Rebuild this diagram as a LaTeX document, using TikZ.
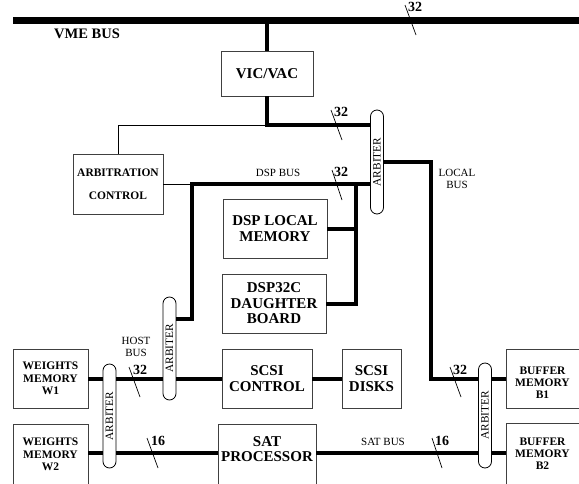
\documentclass[tikz,border=0pt]{standalone}
\usepackage{fontspec}
\setmainfont{Liberation Serif}
\begin{document}
\begin{tikzpicture}[x=1pt,y=-1pt,
  box/.style={draw=black!75,line width=0.8pt,inner sep=0pt,align=center,font=\fontsize{15}{15.5}\selectfont\bfseries},
  sbox/.style={draw=black!75,line width=0.8pt,inner sep=0pt,align=center,font=\fontsize{11.5}{12.5}\selectfont\bfseries},
  arb/.style={draw=black,line width=0.8pt,rounded corners=6.5pt,inner sep=0pt,minimum height=13pt,rotate=90,font=\fontsize{11.3}{11.3}\selectfont},
  bus/.style={line width=4pt},
  thin/.style={line width=1pt},
  slash/.style={line width=0.7pt},
  lbl/.style={inner sep=0pt,font=\fontsize{11}{12}\selectfont,align=center},
  num/.style={inner sep=0pt,font=\fontsize{14}{14}\selectfont\bfseries}]
\useasboundingbox (0,0) rectangle (579,483);
\clip (0,0) rectangle (579,483);
% VME bus
\coordinate (vmeL) at (13,20.5);
\coordinate (vmeR) at (579,20.5);
\draw[line width=7pt] (vmeL) -- (vmeR);
\node[inner sep=0pt,font=\fontsize{14.5}{15}\selectfont\bfseries] (vmelbl) at (87,34) {VME BUS};
\coordinate (s1a) at (405,5); \coordinate (s1b) at (416,35);
\draw[slash] (s1a) -- (s1b);
\node[num] (n1) at (415,6.5) {32};
% boxes
\node[box,minimum width=92pt,minimum height=45pt] (vic) at (267,73.5) {VIC/VAC};
\node[sbox,minimum width=90pt,minimum height=60pt] (arbctl) at (118,184) {ARBITRATION\\[11pt]CONTROL};
\node[box,minimum width=104pt,minimum height=59pt] (dsplm) at (275,228.5) {DSP LOCAL\\MEMORY};
\node[box,minimum width=104pt,minimum height=59pt] (dsp32) at (274,303.5) {DSP32C\\DAUGHTER\\BOARD};
\node[sbox,minimum width=75pt,minimum height=59pt] (w1) at (50.5,378.5) {WEIGHTS\\MEMORY\\W1};
\node[sbox,minimum width=75pt,minimum height=61pt] (w2) at (50.5,454.5) {WEIGHTS\\MEMORY\\W2};
\node[box,minimum width=90pt,minimum height=59pt] (scsic) at (267,378.5) {SCSI\\CONTROL};
\node[box,minimum width=59pt,minimum height=59pt] (scsid) at (371.5,378.5) {SCSI\\DISKS};
\node[box,minimum width=98pt,minimum height=61pt,text depth=11pt] (sat) at (267,454.5) {SAT\\PROCESSOR};
\node[sbox,minimum width=73pt,minimum height=59pt,font=\fontsize{11.5}{11.8}\selectfont\bfseries,text height=39pt,text depth=0pt] (b1) at (542.5,378.5) {BUFFER\\MEMORY\\B1};
\node[sbox,minimum width=73pt,minimum height=61pt,font=\fontsize{11.5}{11.8}\selectfont\bfseries] (b2) at (542.5,453.5) {BUFFER\\MEMORY\\B2};
% arbiters
\node[arb,minimum width=104pt] (arbT) at (377,162) {ARBITER};
\node[arb,minimum width=103pt] (arbH) at (169.5,348.5) {ARBITER};
\node[arb,minimum width=104pt] (arbL) at (109.5,416) {ARBITER};
\node[arb,minimum width=105pt] (arbR) at (485,415.5) {ARBITER};
% VME to VIC
\draw[bus] (vic.north) -- (vic.north |- vmeL);
\coordinate (j1) at (267,125);
\draw[bus] (vic.south) -- (j1) -- (j1 -| arbT.north);
\draw[thin] (j1) -- (j1 -| arbctl.north) -- (arbctl.north);
\coordinate (s2a) at (331,110); \coordinate (s2b) at (342,140);
\draw[slash] (s2a) -- (s2b);
\node[num] (n2) at (341,112) {32};
% DSP bus
\coordinate (d0) at (192,184);
\coordinate (d1) at (356,184);
\draw[thin] (arbctl.east) -- (d0);
\draw[bus] (arbH.south |- 0,319) -- (192,319) -- (d0) -- (d0 -| arbT.north);
\draw[bus] (d1) -- (356,304) -- (dsp32.east |- 0,304);
\draw[bus] (356,229) -- (dsplm.east |- 0,229);
\node[lbl] (dspbus) at (278,173) {DSP BUS};
\coordinate (s3a) at (332,170); \coordinate (s3b) at (342,200);
\draw[slash] (s3a) -- (s3b);
\node[num] (n3) at (341,172) {32};
% local bus
\coordinate (l0) at (431,162);
\coordinate (l1) at (431,379);
\draw[bus] (arbT.south) -- (l0) -- (l1) -- (l1 -| arbR.north);
\draw[bus] (arbR.south |- l1) -- (b1.west |- l1);
\node[lbl] (localbus) at (457,179) {LOCAL\\BUS};
\coordinate (s4a) at (450,367); \coordinate (s4b) at (461,397);
\draw[slash] (s4a) -- (s4b);
\node[num] (n4) at (460,370) {32};
% host bus
\coordinate (h0) at (88,379);
\draw[bus] (w1.east |- h0) -- (h0 -| arbL.north);
\draw[bus] (arbL.south |- h0) -- (h0 -| arbH.north);
\draw[bus] (arbH.south |- h0) -- (scsic.west |- h0);
\draw[bus] (scsic.east |- h0) -- (scsid.west |- h0);
\node[lbl] (hostbus) at (136,347) {HOST\\BUS};
\coordinate (s5a) at (129,367); \coordinate (s5b) at (140,397);
\draw[slash] (s5a) -- (s5b);
\node[num] (n5) at (140,370) {32};
% W2 / SAT bus
\coordinate (t0) at (88,453);
\draw[bus] (w2.east |- t0) -- (t0 -| arbL.north);
\draw[bus] (arbL.south |- t0) -- (sat.west |- t0);
\draw[bus] (sat.east |- t0) -- (t0 -| arbR.north);
\draw[bus] (arbR.south |- t0) -- (b2.west |- t0);
\node[lbl] (satbus) at (383,442) {SAT BUS};
\coordinate (s6a) at (147,438); \coordinate (s6b) at (158,468);
\draw[slash] (s6a) -- (s6b);
\node[num] (n6) at (158,441) {16};
\coordinate (s7a) at (432,438); \coordinate (s7b) at (442,468);
\draw[slash] (s7a) -- (s7b);
\node[num] (n7) at (442,441) {16};
\end{tikzpicture}
\end{document}
